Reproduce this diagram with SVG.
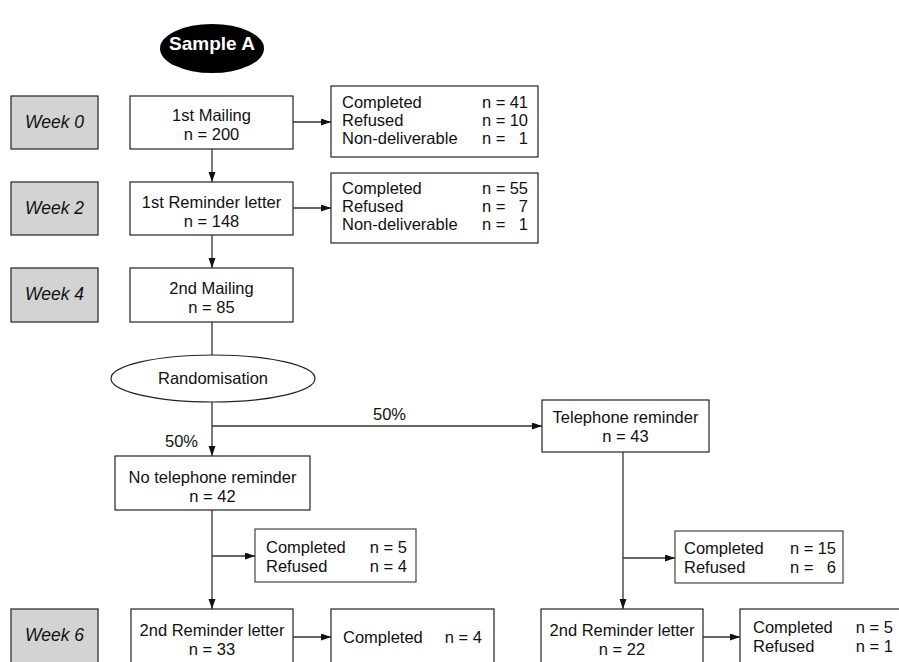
<svg xmlns="http://www.w3.org/2000/svg" width="899" height="662" viewBox="0 0 899 662">
<defs>
<marker id="ah" markerUnits="userSpaceOnUse" markerWidth="11" markerHeight="8" refX="10" refY="3.5" orient="auto">
<path d="M0,0 L10,3.5 L0,7 z" fill="#111"/>
</marker>
<style>
text{font-family:"Liberation Sans",Arial,sans-serif;font-size:16.5px;fill:#111}
.c{text-anchor:middle}
.e{text-anchor:end}
.wk{font-style:italic;font-size:17.5px;text-anchor:middle}
.box{fill:#fff;stroke:#222;stroke-width:1.2}
.res{fill:#fff;stroke:#444;stroke-width:1.2}
.week{fill:#d3d3d3;stroke:#222;stroke-width:1.2}
.conn path{fill:none;stroke:#333;stroke-width:1.3}
.arr{marker-end:url(#ah)}
</style>
</defs>
<rect width="899" height="662" fill="#fff"/>

<g id="sampleA">
<ellipse cx="212" cy="48.5" rx="52" ry="24.5" fill="#000"/>
<text x="212" y="50" class="c" style="font-weight:bold;font-size:19px;fill:#fff">Sample A</text>
</g>

<g id="week0"><rect class="week" x="11" y="96" width="87" height="53"/><text class="wk" x="54.5" y="128">Week 0</text></g>
<g id="week2"><rect class="week" x="11" y="182" width="87" height="53"/><text class="wk" x="54.5" y="214">Week 2</text></g>
<g id="week4"><rect class="week" x="11" y="268" width="87" height="54"/><text class="wk" x="54.5" y="300">Week 4</text></g>
<g id="week6"><rect class="week" x="11" y="609" width="87" height="60"/><text class="wk" x="54.5" y="641">Week 6</text></g>

<g id="mailing1"><rect class="box" x="130" y="96" width="163" height="53"/>
<text class="c" x="211.5" y="121">1st Mailing</text><text class="c" x="211.5" y="140">n = 200</text></g>

<g id="result1"><rect class="box" x="331" y="86" width="207" height="71"/>
<text x="342" y="108">Completed<tspan x="482">n =</tspan><tspan x="528" class="e">41</tspan></text>
<text x="342" y="126">Refused<tspan x="482">n =</tspan><tspan x="528" class="e">10</tspan></text>
<text x="342" y="144">Non-deliverable<tspan x="482">n =</tspan><tspan x="528" class="e">1</tspan></text>
</g>

<g id="reminder1"><rect class="box" x="130" y="182" width="163" height="53"/>
<text class="c" x="211.5" y="208">1st Reminder letter</text><text class="c" x="211.5" y="227">n = 148</text></g>

<g id="result2"><rect class="box" x="331" y="173" width="207" height="70"/>
<text x="342" y="194">Completed<tspan x="482">n =</tspan><tspan x="528" class="e">55</tspan></text>
<text x="342" y="212">Refused<tspan x="482">n =</tspan><tspan x="528" class="e">7</tspan></text>
<text x="342" y="230">Non-deliverable<tspan x="482">n =</tspan><tspan x="528" class="e">1</tspan></text>
</g>

<g id="mailing2"><rect class="box" x="130" y="268" width="163" height="54"/>
<text class="c" x="211.5" y="294">2nd Mailing</text><text class="c" x="211.5" y="313">n = 85</text></g>

<g id="randomisation"><ellipse cx="213" cy="378.5" rx="102" ry="23.5" fill="#fff" stroke="#222" stroke-width="1.2"/>
<text class="c" x="213" y="384">Randomisation</text></g>

<g id="telephone"><rect class="box" x="542" y="400" width="167" height="52"/>
<text class="c" x="625.5" y="423">Telephone reminder</text><text class="c" x="625.5" y="442">n = 43</text></g>

<g id="notelephone"><rect class="box" x="115" y="456" width="195" height="54"/>
<text class="c" x="212.5" y="483">No telephone reminder</text><text class="c" x="212.5" y="502">n = 42</text></g>

<g id="result3"><rect class="res" x="255" y="529" width="161" height="53"/>
<text x="266" y="553">Completed<tspan x="407" class="e">n = 5</tspan></text>
<text x="266" y="572">Refused<tspan x="407" class="e">n = 4</tspan></text></g>

<g id="result4"><rect class="res" x="675" y="531" width="168" height="52"/>
<text x="684" y="554">Completed<tspan x="790">n =</tspan><tspan x="836" class="e">15</tspan></text>
<text x="684" y="573">Refused<tspan x="790">n =</tspan><tspan x="836" class="e">6</tspan></text></g>

<g id="reminder2a"><rect class="box" x="131" y="609" width="162" height="60"/>
<text class="c" x="212" y="636">2nd Reminder letter</text><text class="c" x="212" y="655">n = 33</text></g>

<g id="result5"><rect class="box" x="331" y="609" width="163" height="60"/>
<text x="343" y="643">Completed<tspan x="482" class="e">n = 4</tspan></text></g>

<g id="reminder2b"><rect class="box" x="541" y="609" width="162" height="60"/>
<text class="c" x="622" y="636">2nd Reminder letter</text><text class="c" x="622" y="655">n = 22</text></g>

<g id="result6"><rect class="box" x="740" y="609" width="170" height="60"/>
<text x="753" y="633">Completed<tspan x="893" class="e">n = 5</tspan></text>
<text x="753" y="652">Refused<tspan x="893" class="e">n = 1</tspan></text></g>

<g id="connectors" class="conn">
<path class="arr" d="M212,149 V182"/>
<path class="arr" d="M212,235 V268"/>
<path d="M212,322 V355"/>
<path class="arr" d="M293,122 H331"/>
<path class="arr" d="M293,208 H331"/>
<path class="arr" d="M212,402 V456"/>
<path class="arr" d="M212,426 H542"/>
<path class="arr" d="M212,510 V609"/>
<path class="arr" d="M212,556 H255"/>
<path class="arr" d="M623,452 V609"/>
<path class="arr" d="M623,558 H675"/>
<path class="arr" d="M293,637 H331"/>
<path class="arr" d="M703,637 H740"/>
</g>
<g id="labels">
<text x="373" y="420">50%</text>
<text x="165" y="447">50%</text>
</g>
</svg>
